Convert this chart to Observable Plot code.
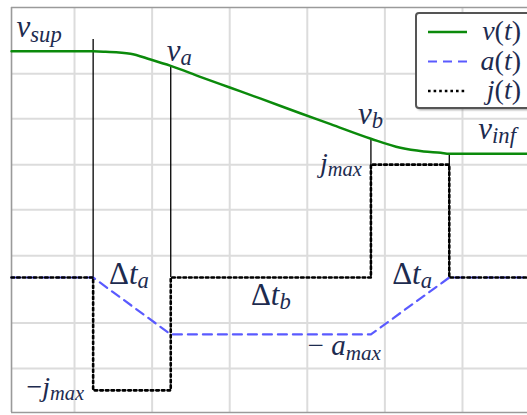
<!DOCTYPE html>
<html>
<head>
<meta charset="utf-8">
<script src="https://cdn.jsdelivr.net/npm/d3@7"></script>
<script src="https://cdn.jsdelivr.net/npm/@observablehq/plot@0.6"></script>
<style>
  html, body { margin: 0; padding: 0; background: #fff; overflow: hidden; width: 527px; height: 415px; }
  #chart { position: relative; width: 527px; height: 415px; }
  #chart svg { display: block; }
  #legend { position: absolute; left: 0; top: 0; pointer-events: none; }
</style>
</head>
<body>
<div id="chart"></div>
<script>
// Switching instants of the jerk-limited velocity profile (time units)
const t1 = 1.24, t2 = 2.24, t3 = 4.82, t4 = 5.83;
// Extent of the drawn time axis and value axis
const tStart = 0.188, tEnd = 6.84;
const yTop = 5.934, yBottom = -2.967;

// Characteristic levels
const vSup = 4.97, vInf = 2.72, vA = 4.65, vB = 3.05;
const aMax = 1.25, jMax = 2.48;

// v(t): velocity samples
const vTime  = [tStart, 1.24, 1.40, 1.72, 1.98, 2.24, 2.62, 3.01, 3.40, 3.91, 4.30, 4.82, 5.20, 5.50, 5.72, 5.83, tEnd];
const vValue = [4.97,   4.97, 4.96, 4.92, 4.79, 4.65, 4.41, 4.17, 3.93, 3.61, 3.37, 3.05, 2.85, 2.77, 2.74, 2.72, 2.72];

// a(t): acceleration breakpoints
const aTime  = [tStart, t1, t2, t3, t4, tEnd];
const aValue = [0, 0, -aMax, -aMax, 0, 0];

// j(t): jerk steps (value holds until the next instant)
const jTime  = [tStart, t1, t2, t3, t4, tEnd];
const jValue = [0, -jMax, 0, jMax, 0, 0];

// Vertical markers from the time line up to the velocity curve
const markTime = [t1, t2, t3, t4];
const markTop  = [5.23, vA, vB, vInf];

// Grid positions
const xGrid = [1, 2, 3, 4, 5, 6];
const yGrid = [4.48, 3.49, 2.48, 1.49, 0.48, -1, -2];

// Legend entries
const legendLabels = ["v(t)", "a(t)", "j(t)"];

const green = "#0b8a0b", blue = "#5a5aff", ink = "#1d2b4f", grid = "#dcdcdc";
const serif = "Liberation Serif, Times New Roman, DejaVu Serif, serif";

const toRows = (xs, ys) => xs.map((x, i) => ({x, y: ys[i]}));

// One annotation: anchored at a data point, nudged in pixels
const note = (label, x, y, o) => Plot.text([{x, y, label}], {
  x: "x", y: "y", text: "label",
  fill: ink, fontFamily: serif, fontSize: 31, fontStyle: "italic",
  lineAnchor: "bottom", ...o
});

const svg = Plot.plot({
  width: 527,
  height: 415,
  margin: 0,
  style: {background: "white"},
  x: {domain: [0.046, 6.838], axis: null},
  y: {domain: [-3.033, 6.088], axis: null},
  marks: [
    Plot.ruleX(xGrid, {y1: yBottom, y2: yTop, stroke: grid, strokeWidth: 2}),
    Plot.ruleY(yGrid, {x1: tStart, x2: tEnd, stroke: grid, strokeWidth: 2}),
    Plot.ruleX([tStart], {y1: yBottom, y2: yTop, stroke: "#9a9a9a", strokeWidth: 1.6}),
    Plot.ruleY([yTop, yBottom], {x1: tStart, x2: tEnd, stroke: "#9a9a9a", strokeWidth: 1.6}),

    Plot.ruleX(toRows(markTime, markTop), {x: "x", y1: 0, y2: "y", stroke: "#000", strokeWidth: 1.3}),

    Plot.line(toRows(vTime, vValue), {x: "x", y: "y", stroke: green, strokeWidth: 2.5, curve: "monotone-x"}),
    Plot.line(toRows(aTime, aValue), {x: "x", y: "y", stroke: blue, strokeWidth: 2.2, strokeDasharray: "9,6"}),
    Plot.line(toRows(jTime, jValue), {x: "x", y: "y", stroke: "#000", strokeWidth: 2.6, strokeDasharray: "2.6,3", curve: "step-after"}),

    note("v_sup", tStart, vSup, {textAnchor: "start", dx: 5, dy: -14}),
    note("v_a", t2, vA, {textAnchor: "start", dx: -4, dy: -5}),
    note("v_b", t3, vB, {textAnchor: "start", dx: -13, dy: -15}),
    note("v_inf", t4, vInf, {textAnchor: "start", dx: 29, dy: -15}),
    note("j_max", t3, jMax, {textAnchor: "end", dx: -9, dy: 7, fontSize: 28}),
    note("−j_max", t1, -jMax, {textAnchor: "end", dx: -9, dy: 6, fontSize: 28}),
    note("Δt_a", (t1 + t2) / 2, 0, {textAnchor: "middle", dx: -3, dy: 6}),
    note("Δt_b", (t2 + t3) / 2, 0, {textAnchor: "middle", dx: 0, dy: 27}),
    note("Δt_a", (t3 + t4) / 2, 0, {textAnchor: "middle", dx: 2, dy: 6}),
    note("− a_max", t3, -aMax, {textAnchor: "end", dx: 10, dy: 21, fontSize: 29})
  ]
});

// Math-style typesetting: upright symbols, italic letters, lowered subscripts
const upright = new Set(["Δ", "−", "(", ")", " "]);
function typeset(node, text) {
  const [base, sub] = text.split("_");
  node.textContent = "";
  let run = "", runUp = null;
  const flush = () => {
    if (!run) return;
    const ts = document.createElementNS("http://www.w3.org/2000/svg", "tspan");
    ts.setAttribute("font-style", runUp ? "normal" : "italic");
    ts.textContent = run;
    node.appendChild(ts);
    run = "";
  };
  for (const ch of base) {
    const up = upright.has(ch);
    if (runUp !== null && up !== runUp) flush();
    runUp = up;
    run += ch;
  }
  flush();
  if (sub) {
    const ts = document.createElementNS("http://www.w3.org/2000/svg", "tspan");
    ts.setAttribute("font-style", "italic");
    ts.setAttribute("font-size", "0.73em");
    ts.setAttribute("dy", "0.2em");
    ts.textContent = sub;
    node.appendChild(ts);
  }
}
svg.querySelectorAll("text").forEach(t => typeset(t, t.textContent));

const chart = document.getElementById("chart");
chart.appendChild(svg);

// Legend box in the upper right corner
const lg = d3.select(chart).append("svg")
  .attr("id", "legend").attr("width", 527).attr("height", 415);
const defs = lg.append("defs");
defs.append("filter").attr("id", "shadow").attr("x", "-10%").attr("y", "-10%").attr("width", "130%").attr("height", "130%")
  .append("feGaussianBlur").attr("stdDeviation", 1.3);
lg.append("rect").attr("x", 417.5).attr("y", 15).attr("width", 130).attr("height", 95).attr("rx", 3)
  .attr("fill", "#777").attr("opacity", 0.7).attr("filter", "url(#shadow)");
lg.append("rect").attr("x", 416).attr("y", 13).attr("width", 130).attr("height", 95).attr("rx", 3)
  .attr("fill", "#fff").attr("stroke", "#555").attr("stroke-width", 2);

const legendStyles = [
  {stroke: green, width: 2.5, dash: null},
  {stroke: blue, width: 2.2, dash: "9,6"},
  {stroke: "#000", width: 2.6, dash: "2.6,3"}
];
legendLabels.forEach((label, i) => {
  const cy = 32 + i * 29.5;
  const s = legendStyles[i];
  lg.append("line").attr("x1", 428).attr("x2", 467).attr("y1", cy).attr("y2", cy)
    .attr("stroke", s.stroke).attr("stroke-width", s.width)
    .attr("stroke-dasharray", s.dash);
  const txt = lg.append("text").attr("x", 521).attr("y", cy + 8)
    .attr("text-anchor", "end").attr("fill", ink)
    .attr("font-family", serif).attr("font-size", 28).attr("font-style", "italic");
  typeset(txt.node(), label);
});
</script>
</body>
</html>
